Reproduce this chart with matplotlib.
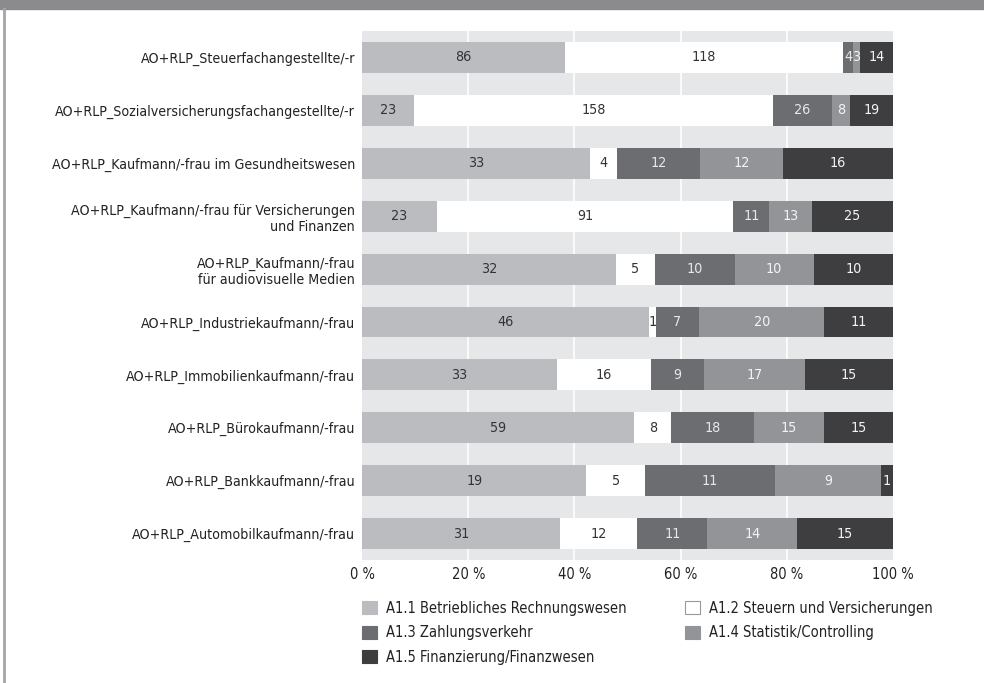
import numpy as np
import matplotlib
matplotlib.use("Agg")
import matplotlib.pyplot as plt
from matplotlib.patches import Patch, Rectangle
from matplotlib.lines import Line2D

plt.rcParams['font.family'] = ['DejaVu Sans']
plt.rcParams['font.stretch'] = 'condensed'

# ---- data ----
categories = [
    "AO+RLP_Steuerfachangestellte/-r",
    "AO+RLP_Sozialversicherungsfachangestellte/-r",
    "AO+RLP_Kaufmann/-frau im Gesundheitswesen",
    "AO+RLP_Kaufmann/-frau für Versicherungen\nund Finanzen",
    "AO+RLP_Kaufmann/-frau\nfür audiovisuelle Medien",
    "AO+RLP_Industriekaufmann/-frau",
    "AO+RLP_Immobilienkaufmann/-frau",
    "AO+RLP_Bürokaufmann/-frau",
    "AO+RLP_Bankkaufmann/-frau",
    "AO+RLP_Automobilkaufmann/-frau",
]
a11 = [86, 23, 33, 23, 32, 46, 33, 59, 19, 31]
a12 = [118, 158, 4, 91, 5, 1, 16, 8, 5, 12]
a13 = [4, 26, 12, 11, 10, 7, 9, 18, 11, 11]
a14 = [3, 8, 12, 13, 10, 20, 17, 15, 9, 14]
a15 = [14, 19, 16, 25, 10, 11, 15, 15, 1, 15]
series_names = [
    "A1.1 Betriebliches Rechnungswesen",
    "A1.2 Steuern und Versicherungen",
    "A1.3 Zahlungsverkehr",
    "A1.4 Statistik/Controlling",
    "A1.5 Finanzierung/Finanzwesen",
]
tick_vals = [0, 20, 40, 60, 80, 100]
tick_labels = ["0 %", "20 %", "40 %", "60 %", "80 %", "100 %"]

colors = ["#bbbcc0", "#ffffff", "#6c6d71", "#939497", "#3e3e40"]
text_colors = ["#333333", "#333333", "#e8e8e8", "#f4f4f4", "#f4f4f4"]

# ---- figure ----
fig = plt.figure(figsize=(9.84, 6.83), dpi=100)
ax = fig.add_axes([0.368, 0.18, 0.5395, 0.7746])

# header band and left border line
fig.patches.append(Rectangle((0, 1 - 9 / 683), 1, 9 / 683, transform=fig.transFigure,
                             color="#8b8b8e", zorder=0))
fig.lines.append(Line2D([3.5 / 984, 3.5 / 984], [0, 1 - 9 / 683], transform=fig.transFigure,
                        color="#a5a5a9", lw=2))

ax.set_facecolor("#e6e7e8")
for s in ax.spines.values():
    s.set_visible(False)
for v in tick_vals[1:-1]:
    ax.axvline(v, color="white", lw=1.2, zorder=1)

data = np.array([a11, a12, a13, a14, a15], dtype=float)
totals = data.sum(axis=0)
pct = data / totals * 100
y = np.arange(len(categories))
left = np.zeros(len(categories))
for i in range(5):
    ax.barh(y, pct[i], left=left, height=0.585, color=colors[i], zorder=2)
    for j in range(len(categories)):
        ax.text(left[j] + pct[i, j] / 2, y[j], str(int(data[i, j])), ha="center", va="center",
                fontsize=10.3, color=text_colors[i], zorder=3)
    left += pct[i]

ax.set_xlim(0, 100)
ax.set_ylim(len(categories) - 0.5, -0.5)
ax.set_yticks(y)
ax.set_yticklabels(categories, fontsize=10.2, color="#222222", multialignment="right")
ax.set_xticks(tick_vals)
ax.set_xticklabels(tick_labels, fontsize=10.5, color="#222222")
ax.tick_params(length=0)
ax.tick_params(axis="y", pad=5)
ax.tick_params(axis="x", pad=5)

# legend: column-wise order
handles = [Patch(facecolor=c, edgecolor=("#9a9a9a" if c == "#ffffff" else c), lw=0.8)
           for c in colors]
order = [0, 2, 4, 1, 3]
fig.legend([handles[k] for k in order], [series_names[k] for k in order],
           loc="upper left", bbox_to_anchor=(0.368, 0.1205), ncol=2, frameon=False,
           fontsize=10.5, handlelength=1.03, handleheight=1.03, handletextpad=0.62,
           columnspacing=4.0, labelspacing=0.65, borderaxespad=0, borderpad=0,
           labelcolor="#222222")

fig.savefig("out.png", dpi=100, facecolor="white")
